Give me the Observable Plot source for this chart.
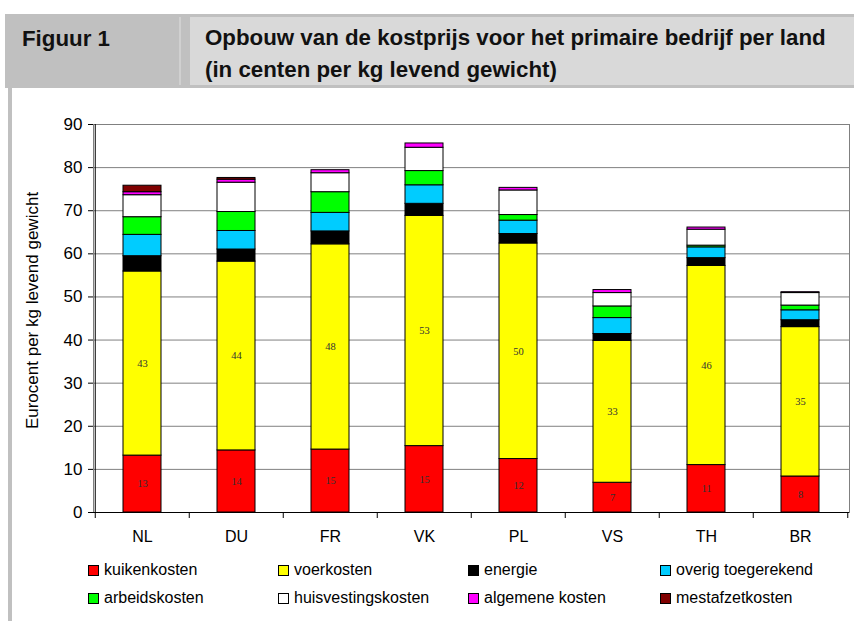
<!DOCTYPE html>
<html>
<head>
<meta charset="utf-8">
<script src="https://cdn.jsdelivr.net/npm/d3@7"></script>
<script src="https://cdn.jsdelivr.net/npm/@observablehq/plot@0.6"></script>
<style>
  html, body { margin: 0; padding: 0; background: #fff; }
  body { width: 854px; height: 621px; position: relative; overflow: hidden; font-family: "Liberation Sans", Arial, sans-serif; }
  #hdr { position: absolute; left: 5px; top: 14px; width: 849px; height: 74px; background: #c0c0c0; }
  #hdr .cell2 { position: absolute; left: 185px; top: 3px; right: 0; height: 68px; background: #d9d9d9; }
  #hdr .sep { position: absolute; left: 174px; top: 3px; width: 2px; height: 68px; background: #d0d0d0; }
  .hfont { font-family: "Liberation Sans Narrow", "Arial Narrow", "Liberation Sans", Arial, sans-serif; font-weight: bold; color: #111; white-space: nowrap; }
  #fig { position: absolute; left: 17px; top: 9px; font-size: 24px; line-height: 32px; }
  #ttl { position: absolute; left: 200px; top: 8px; font-size: 24px; line-height: 32px; }
  #ttl span { display: inline-block; }
  #lbar { position: absolute; left: 8px; top: 88px; width: 4px; height: 533px; background: #c0c0c0; }
  #chart { position: absolute; left: 0; top: 90px; }
  .leg { position: absolute; font-size: 16px; color: #000; white-space: nowrap; line-height: 18px; }
  .leg i { display: inline-block; width: 9px; height: 9px; border: 1px solid #000; margin-right: 5px; vertical-align: -1px; }
</style>
</head>
<body>
<div id="hdr">
  <div class="sep"></div>
  <div class="cell2"></div>
  <div id="fig" class="hfont">Figuur 1</div>
  <div id="ttl" class="hfont"><span id="t1">Opbouw van de kostprijs voor het primaire bedrijf per land</span><br><span id="t2">(in centen per kg levend gewicht)</span></div>
</div>
<div id="lbar"></div>
<div id="chart"></div>
<div id="legend"></div>
<script>
const countries = ["NL", "DU", "FR", "VK", "PL", "VS", "TH", "BR"];
const costTypes = ["kuikenkosten", "voerkosten", "energie", "overig toegerekend", "arbeidskosten", "huisvestingskosten", "algemene kosten", "mestafzetkosten"];
const colors = ["#ff0000", "#ffff00", "#000000", "#00ccff", "#00ff00", "#ffffff", "#ff00ff", "#800000"];
const yTicks = [0, 10, 20, 30, 40, 50, 60, 70, 80, 90];
const yTitle = "Eurocent per kg levend gewicht";

const kuikenkosten      = [13.2, 14.4, 14.6, 15.4, 12.4, 6.9, 11.0, 8.35];
const voerkosten        = [42.7, 43.8, 47.6, 53.4, 50.0, 32.9, 46.2, 34.65];
const energie           = [3.55, 2.8, 3.0, 2.8, 2.2, 1.6, 1.8, 1.6];
const overigToegerekend = [4.95, 4.3, 4.3, 4.3, 3.1, 3.7, 2.5, 2.3];
const arbeidskosten     = [4.1, 4.4, 4.8, 3.3, 1.3, 2.7, 0.4, 1.1];
const huisvesting       = [5.1, 6.8, 4.4, 5.4, 5.7, 3.1, 3.7, 2.9];
const algemeneKosten    = [0.7, 0.7, 0.7, 1.0, 0.6, 0.7, 0.5, 0.2];
const mestafzetkosten   = [1.5, 0.4, 0, 0, 0, 0, 0, 0];

const series = [kuikenkosten, voerkosten, energie, overigToegerekend, arbeidskosten, huisvesting, algemeneKosten, mestafzetkosten];
const rows = costTypes.flatMap((cost, i) => countries.map((land, j) => ({land, cost, value: series[i][j], idx: i})));
const labelled = rows.filter(d => d.idx < 2);

// fit header font so line 1 spans ~621px as in the reference
(function fitHeader() {
  const t1 = document.getElementById("t1");
  const w = t1.getBoundingClientRect().width;
  const size = Math.max(16, Math.min(28, 24 * 621 / w));
  document.getElementById("ttl").style.fontSize = size + "px";
  document.getElementById("fig").style.fontSize = size + "px";
})();

const FONT = '"Liberation Sans", Arial, sans-serif';

const chart = Plot.plot({
  width: 854,
  height: 462,
  marginLeft: 93,
  marginRight: 5,
  marginTop: 34,
  marginBottom: 40,
  style: {fontFamily: FONT, fontSize: "16px", background: "transparent", color: "#000", overflow: "visible"},
  x: {domain: countries, paddingInner: 0.6, paddingOuter: 0.3, label: null},
  y: {domain: [0, 90], label: null},
  color: {domain: costTypes, range: colors},
  marks: [
    Plot.gridY(yTicks, {stroke: "#808080", strokeOpacity: 1}),
    Plot.frame({stroke: "#808080"}),
    Plot.barY(rows, {x: "land", y: "value", fill: "cost", order: costTypes, stroke: "#000", strokeWidth: 1}),
    Plot.text(labelled, Plot.stackY({x: "land", y: "value", z: "cost", order: costTypes, text: d => Math.round(d.value), fontFamily: '"Liberation Serif", "Times New Roman", serif', fontSize: 10.5, fill: "#333"})),
    Plot.ruleY([0], {stroke: "#000"}),
    Plot.ruleX(["NL"], {dx: -47.25, stroke: "#000"}),
    Plot.axisY({ticks: yTicks, tickSize: 5, tickPadding: 6, fontSize: 17, label: null}),
    Plot.axisX({tickSize: 0, tickPadding: 18, fontSize: 16, label: null}),
    Plot.axisX({tickSize: 6, text: null, dx: -47.25, label: null}),
    Plot.axisX({ticks: ["BR"], tickSize: 6, text: null, dx: 47.25, label: null}),
    Plot.text([yTitle], {frameAnchor: "left", dx: -61, dy: -8, rotate: -90, textAnchor: "middle", text: d => d, fontSize: 17})
  ]
});
document.getElementById("chart").appendChild(chart);

const legendPos = [[88, 561], [278, 561], [468, 561], [660, 561], [88, 589], [278, 589], [468, 589], [660, 589]];
const legend = document.getElementById("legend");
costTypes.forEach((c, i) => {
  const el = document.createElement("div");
  el.className = "leg";
  el.style.left = legendPos[i][0] + "px";
  el.style.top = legendPos[i][1] + "px";
  const sw = document.createElement("i");
  sw.style.background = colors[i];
  el.appendChild(sw);
  el.appendChild(document.createTextNode(c));
  legend.appendChild(el);
});
</script>
</body>
</html>
